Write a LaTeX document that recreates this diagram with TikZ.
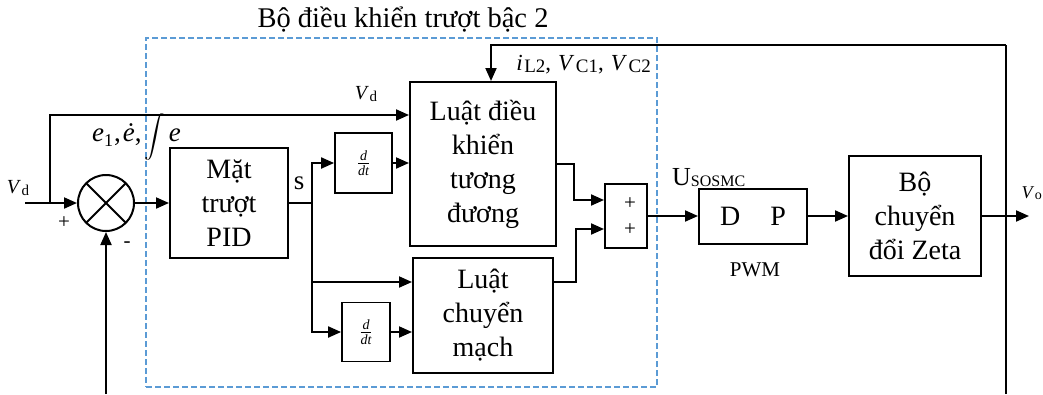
\documentclass[tikz,border=0pt]{standalone}
\usepackage{amsmath}
\usepackage{fontspec}
\setmainfont{Liberation Serif}
\usetikzlibrary{arrows.meta,calc}
\definecolor{dashblue}{HTML}{5B9BD5}
\newcommand\mysub[1]{\hspace{0.5pt}\raisebox{-1.5pt}{\fontsize{15}{15}\selectfont #1}}
\newcommand\mysubb[1]{\hspace{1.5pt}\raisebox{-1.5pt}{\fontsize{19}{19}\selectfont #1}}
\begin{document}
\begin{tikzpicture}[x=1pt,y=-1pt,
  blk/.style={draw, line width=2pt, align=center, inner sep=0pt, font=\fontsize{28}{34}\selectfont},
  ln/.style={line width=2pt},
  arr/.style={line width=2pt, -{Triangle[length=13pt,width=11pt]}},
  lbl/.style={inner sep=0pt, font=\fontsize{20}{20}\selectfont},
  dfrac/.style={blk, line width=1.8pt, font=\fontsize{20}{20}\selectfont}]
\useasboundingbox (0,0) rectangle (1043,394);
% dashed controller frame
\node[draw=dashblue, dashed, dash pattern=on 6pt off 3pt, line width=1.5pt, minimum width=511pt, minimum height=349pt, inner sep=0pt] (frame) at (401.5,212.5) {};
\node[inner sep=0pt, font=\fontsize{28.5}{28.5}\selectfont] (title) at (403,20) {Bộ điều khiển trượt bậc 2};
% blocks
\node[draw, circle, line width=2pt, minimum size=56pt, inner sep=0pt] (sum) at (106,203) {};
\draw[ln] ($(sum.center)+(-19.8,-19.8)$) -- ($(sum.center)+(19.8,19.8)$);
\draw[ln] ($(sum.center)+(-19.8,19.8)$) -- ($(sum.center)+(19.8,-19.8)$);
\node[blk, minimum width=118pt, minimum height=110pt] (pid) at (229,203) {Mặt\\trượt\\PID};
\node[dfrac, minimum width=57pt, minimum height=60pt] (dd1) at (363.5,163) {$\frac{\textit{d}}{\textit{dt}}$};
\node[blk, minimum width=146pt, minimum height=164pt] (eq) at (483,164) {Luật điều\\khiển\\tương\\đương};
\node[blk, minimum width=140pt, minimum height=115pt] (sw) at (483,315.5) {Luật\\chuyển\\mạch};
\node[dfrac, minimum width=48pt, minimum height=59pt] (dd2) at (366,332) {$\frac{\textit{d}}{\textit{dt}}$};
\node[blk, minimum width=42pt, minimum height=64pt] (add) at (626,216) {};
\node[inner sep=0pt, font=\fontsize{21}{21}\selectfont] (p1) at (630,204) {+};
\node[inner sep=0pt, font=\fontsize{21}{21}\selectfont] (p2) at (630,230) {+};
\node[blk, minimum width=108pt, minimum height=55pt, font=\fontsize{28}{28}\selectfont] (dp) at (753,216) {D\hspace{30pt}P};
\node[blk, minimum width=132pt, minimum height=120pt] (zeta) at (915,216) {Bộ\\chuyển\\đổi Zeta};
% junction coordinates
\coordinate (in) at (25,203);
\coordinate (vb) at (50,203);
\coordinate (sj) at (312,203);
\coordinate (tr) at (1006,45);
\coordinate (br) at (1006,394);
\coordinate (fb) at (106,394);
\coordinate (out) at (1029,216);
% connectors
\draw[arr] (in) -- (sum.west);
\draw[arr] (vb) |- ($(eq.north west)+(0,34)$);
\draw[arr] (sum.east) -- (pid.west);
\draw[ln] (pid.east) -- (sj);
\draw[arr] (sj) |- (dd1.west);
\draw[arr] (dd1.east) -- (eq.west |- dd1.east);
\draw[arr] (sj) |- ($(sw.north west)+(0,25)$);
\draw[arr] (sj) |- (dd2.west);
\draw[arr] (dd2.east) -- (sw.west |- dd2.east);
\draw[arr] (eq.east) -- ($(eq.east)+(17,0)$) |- ($(add.north west)+(0,17)$);
\draw[arr] ($(sw.north east)+(0,25)$) -- ($(sw.north east)+(22,25)$) |- ($(add.north west)+(0,46)$);
\draw[arr] (add.east) -- (dp.west);
\draw[arr] (dp.east) -- (zeta.west);
\draw[arr] (zeta.east) -- (out);
\draw[ln] (br) -- (tr);
\draw[arr] (tr) -| ($(eq.north)+(8,0)$);
\draw[arr] (fb) -- (sum.south);
% labels
\node[lbl] (vdin) at (18,188) {\textit{V}\mysub{d}};
\node[lbl] (vdeq) at (366,94) {\textit{V}\mysub{d}};
\node[inner sep=0pt, font=\fontsize{21}{21}\selectfont] (plus) at (64,223) {+};
\node[inner sep=0pt, font=\fontsize{21}{21}\selectfont] (minus) at (127,245) {-};
\node[inner sep=0pt, anchor=west, font=\fontsize{27}{27}\selectfont] (err) at (92,137) {\textit{e}\raisebox{-5pt}{\fontsize{18}{18}\selectfont 1}\hspace{1pt},\hspace{2pt}\textit{ė},\hspace{3pt}\raisebox{-1pt}{\scalebox{0.85}{$\displaystyle\int$}}\hspace{3pt}\textit{e}};
\node[inner sep=0pt, font=\fontsize{27}{27}\selectfont] (slab) at (299,183) {s};
\node[inner sep=0pt, anchor=east, font=\fontsize{23}{23}\selectfont] (meas) at (651,65) {\textit{i}\mysubb{L2},\hspace{7pt}\textit{V}\mysubb{C1},\hspace{7pt}\textit{V}\mysubb{C2}};
\node[inner sep=0pt, anchor=west, font=\fontsize{26}{26}\selectfont] (usl) at (672,178) {U\raisebox{-1pt}{\fontsize{16}{16}\selectfont SOSMC}};
\node[inner sep=0pt, font=\fontsize{21}{21}\selectfont] (pwm) at (755,270) {PWM};
\node[inner sep=0pt, anchor=east, font=\fontsize{18}{18}\selectfont] (vo) at (1042,193) {\textit{V}\hspace{0.5pt}\raisebox{-1.5pt}{\fontsize{14}{14}\selectfont o}};
\end{tikzpicture}
\end{document}
